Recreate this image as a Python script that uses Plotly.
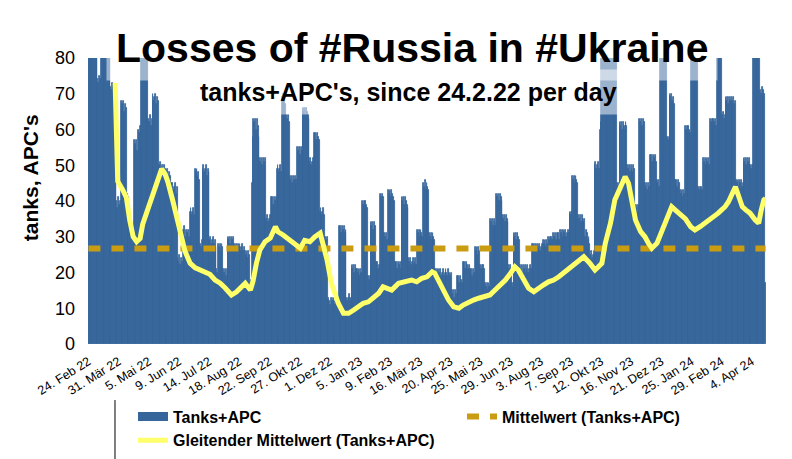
import pandas as pd
import plotly.graph_objects as go

start_date = "2022-02-24"

# daily losses tanks+APC (values above 80 run off the top)
losses_2022 = [
    86, 92, 88, 95, 90, 84, 97, 91, 85, 89, 83,
    74, 73, 75, 74,
    88, 93, 85, 96, 90, 84, 87, 92, 86, 89, 83,
    72, 71, 73, 72, 70, 72, 71,
    40, 38, 41, 39, 40,
    68, 66, 67, 68, 65, 67, 66,
    42, 40, 41, 39,
    31, 30, 32, 31,
    57, 55, 56, 57, 54,
    60, 59, 61, 60,
    84, 88, 82, 86, 90, 83, 85, 81,
    63, 62, 64, 61, 63,
    70, 68, 69, 70, 67, 69, 68,
    50, 49, 51, 48, 50, 49, 50,
    49, 47, 48, 49, 46, 48, 47,
    45, 44, 45, 43, 44, 45, 42, 44,
    24, 23, 25, 22, 24, 23,
    32, 31, 33, 30, 32, 31, 32, 30,
    37, 38, 36, 37, 38, 36,
    49, 48, 49, 47, 48, 46,
    28, 27, 29,
    49, 50, 48, 49, 50, 47, 49, 48,
    29, 30, 28, 29, 30, 28, 29, 27,
    21, 20,
    28, 27, 28, 26, 28, 27,
    21, 20, 21, 19, 21,
    30, 29, 30, 28, 30, 29, 30, 28,
    28, 27, 28, 26, 28, 27, 28, 26, 27, 28, 26, 27,
    26, 25, 26, 24, 26, 25,
    17, 18,
    45, 58, 63, 62, 63, 60, 63, 61, 58,
    52, 51, 52, 50, 52, 51, 50, 52,
    35, 36, 34, 35, 36,
    41, 40, 41, 39, 41, 40, 41,
    49, 50, 48, 49, 50, 48,
    69, 70, 68, 69, 67,
    64, 63, 64, 62,
    47, 46, 47, 45, 47, 46, 47, 45, 46,
    55, 54, 55, 53, 55, 54,
    66, 65, 66, 64, 66, 65, 64, 63,
    51, 52, 50, 51, 52,
    59, 58, 59, 57, 59, 58, 57,
    37, 38, 36, 37, 38, 36,
    30, 29, 30,
    12, 13, 12, 11, 13, 12, 13, 12, 11, 12, 13, 12, 12,
    33, 32, 33, 31, 33, 32, 33, 31, 32,
    13, 12, 13, 14, 13, 12,
    22, 21, 22, 20, 22,
]
losses_2023 = [
    21,
    21, 20, 21, 19, 21, 20,
    40, 39, 40, 38, 40, 39, 38,
    19, 18, 19,
    34, 33, 34, 32, 34, 33,
    23, 22, 23, 21, 22,
    42, 41, 42, 40, 41,
    31, 30, 31, 29,
    43, 42, 43, 41, 43, 42, 41, 40,
    23, 22, 23, 21, 23, 22, 23, 21,
    41, 40, 41, 39, 41, 40, 39, 38,
    24, 23, 24, 22, 23, 24, 22, 23, 24, 22,
    32, 31, 32, 30, 32, 31, 30,
    45, 44, 46, 43, 45, 44, 43,
    31, 30, 31, 29, 31, 30, 29,
    21, 20, 21, 19, 21, 20, 21, 19, 20, 21, 19, 20, 21, 20, 19, 21, 20, 19, 20,
    15, 14, 15, 13, 15, 14,
    19, 18, 19, 17, 19, 18, 17,
    23, 22, 23, 21, 23, 22, 21, 22,
    21, 20, 21, 19, 21, 20,
    27, 26, 27, 25, 27, 26,
    22, 21, 22, 20, 22, 21,
    17, 16, 17, 15, 17, 16,
    35, 34, 35, 33, 35, 34, 33,
    42, 41, 42, 40, 42, 41, 40,
    36, 35, 36, 34, 36, 35, 34,
    22, 21, 22, 20,
    17, 16,
    31, 30, 31, 29, 31, 30, 29,
    22, 21, 22, 20, 22, 21, 22, 20, 21, 22, 20, 21, 22, 21,
    28, 27, 28, 26, 28, 27, 28, 26, 27, 28, 26, 27, 28,
    29, 28, 29, 27, 29, 28,
    30, 29, 30, 28, 30, 29,
    31, 30, 31, 29, 31, 30, 31, 29,
    32, 31, 32, 30, 32, 31, 32, 30, 31, 32, 31,
    37, 36, 37,
    47, 46, 47, 45, 47, 46, 45,
    36, 35, 36, 34, 36, 35, 34, 35,
    30, 32, 31, 29, 30, 28,
    25, 26, 24, 25, 26,
    50, 51, 49, 50, 51, 49,
    60, 62,
    85, 90, 84, 93, 88, 86, 95, 89, 84, 91, 87, 85, 92, 88, 83, 90, 86, 84,
    45, 44, 45,
    62, 61, 62, 60, 62, 61, 60, 62, 61,
    50, 49, 50, 48, 50, 49, 48, 50, 49,
    39, 38, 39, 37, 39,
    63, 62, 63, 61, 63, 62,
    45, 44, 45, 43, 45, 44,
    53, 52, 53, 51, 53, 52, 53, 51,
    46, 45, 46, 44,
    85, 88, 84, 90, 86, 83, 87, 84,
    58, 57, 58,
    70,
]
losses_2024 = [
    69, 70, 68, 69, 67,
    46, 45, 46, 44, 46, 45,
    43, 42, 43, 41, 43, 42,
    61, 60, 61, 59, 61, 60, 59,
    86, 90, 84, 88, 92, 85, 87, 83,
    44, 43, 44, 42, 44, 43,
    52, 51, 52, 50, 52, 51, 52, 50,
    63, 62, 63, 61, 63, 62, 63, 61,
    85, 89, 83, 91, 86, 84,
    64, 65, 63, 64,
    69, 68, 69, 67, 69, 68, 69, 67, 68, 69, 67, 68,
    46, 45, 46, 44, 46, 45, 46, 44, 45,
    52, 51, 52, 50, 52, 51, 52, 50,
    50, 49, 50,
    86, 90, 84, 92, 87, 85, 89, 83,
    71, 70, 72, 69, 71, 70,
    17,
]

# moving average (yellow line), read at these day offsets from 24.2.22
ma_days = [
    31, 32, 33, 34, 40, 44, 48, 52, 56, 60, 63, 69, 75, 81, 85, 89, 92, 98,
    104, 108, 112, 118, 124, 130, 135, 141, 147, 153, 159, 166, 172, 178, 182,
    188, 191, 195, 199, 205, 211, 217, 220, 226, 234, 240, 246, 251, 257, 263,
    269, 272, 277, 282, 290, 296, 302, 308, 313, 319, 325, 331, 337, 342, 352,
    360, 368, 375, 381, 387, 393, 399, 402, 406, 412, 418, 424, 430, 435, 441,
    447, 453, 459, 466, 472, 478, 484, 490, 495, 499, 505, 511, 517, 522, 528,
    534, 540, 546, 551, 557, 563, 569, 575, 582, 588, 592, 596, 600, 606, 611,
    617, 623, 627, 631, 635, 641, 646, 650, 654, 660, 666, 672, 677, 681, 687,
    693, 699, 704, 710, 716, 722, 728, 731, 735, 739, 743, 747, 751, 755, 759,
    763, 768, 774, 778, 781, 784, 786,
]
ma_values = [
    73.0, 60.0, 47.0, 45.5, 43.0, 41.0, 34.5, 30.0, 28.6, 29.5, 33.5, 37.5, 42.0, 46.0, 49.0, 47.5, 45.5, 40.0,
    34.7, 30.0, 26.0, 22.6, 21.3, 20.7, 20.2, 19.5, 17.9, 17.0, 15.6, 13.7, 14.6, 15.8, 17.0,
    15.1, 17.5, 22.6, 26.3, 28.6, 29.6, 32.8, 31.4, 30.5, 29.0, 28.2, 26.8, 29.0, 28.6, 30.0,
    31.0, 28.2, 23.5, 17.0, 11.4, 8.6, 8.6, 9.5, 10.4, 11.4, 11.8, 12.8, 14.2, 16.0, 15.1,
    17.0, 17.4, 17.9, 17.4, 18.4, 18.8, 20.2, 19.8, 17.9, 15.1, 12.3, 10.4, 10.0, 10.9, 11.8,
    12.3, 12.8, 13.2, 13.7, 15.1, 16.5, 17.9, 19.8, 21.6, 20.7, 17.9, 15.6, 14.6, 15.6, 16.5,
    17.4, 17.9, 18.8, 19.8, 21.2, 22.1, 23.5, 24.4, 22.6, 20.7, 21.6, 22.6, 28.2, 33.8, 40.3,
    44.0, 46.8, 44.9, 39.3, 34.7, 31.4, 30.0, 28.2, 26.8, 28.2, 31.9, 35.6, 38.4, 37.5, 36.1,
    35.0, 32.8, 31.9, 32.8, 33.8, 35.2, 36.1, 36.6, 37.5, 38.4, 39.8, 42.1, 44.0, 41.2, 38.4,
    37.5, 36.6, 34.7, 33.8, 37.5, 40.3, 40.7,
]

mean_value = 26.7

tick_dates = [
    "2022-02-24", "2022-03-31", "2022-05-05", "2022-06-09", "2022-07-14", "2022-08-18",
    "2022-09-22", "2022-10-27", "2022-12-01", "2023-01-05", "2023-02-09", "2023-03-16",
    "2023-04-20", "2023-05-25", "2023-06-29", "2023-08-03", "2023-09-07", "2023-10-12",
    "2023-11-16", "2023-12-21", "2024-01-25", "2024-02-29", "2024-04-04",
]
tick_labels = [
    "24. Feb 22", "31. Mär 22", "5. Mai 22", "9. Jun 22", "14. Jul 22", "18. Aug 22",
    "22. Sep 22", "27. Okt 22", "1. Dez 22", "5. Jan 23", "9. Feb 23", "16. Mär 23",
    "20. Apr 23", "25. Mai 23", "29. Jun 23", "3. Aug 23", "7. Sep 23", "12. Okt 23",
    "16. Nov 23", "21. Dez 23", "25. Jan 24", "29. Feb 24", "4. Apr 24",
]

losses = losses_2022 + losses_2023 + losses_2024
dates = pd.date_range(start_date, periods=len(losses), freq="D")
ma_dates = pd.Timestamp(start_date) + pd.to_timedelta(ma_days, unit="D")

BLUE = "#35659a"
GOLD = "#c99c12"
YELLOW = "#ffff6a"
FONT = "Liberation Sans"

fig = go.Figure()

fig.add_trace(go.Bar(
    x=dates, y=losses, marker=dict(color=BLUE, line=dict(width=0.8, color=BLUE)),
    showlegend=False, hoverinfo="x+y",
))
# legend swatch for the bars (wide block like the original)
fig.add_trace(go.Scatter(
    x=[None], y=[None], mode="lines", name="Tanks+APC",
    line=dict(color=BLUE, width=9), legend="legend",
))
fig.add_trace(go.Scatter(
    x=dates, y=[mean_value] * len(dates), mode="lines", name="Mittelwert (Tanks+APC)",
    line=dict(color=GOLD, width=6, dash="12px,11px"), legend="legend2",
))
fig.add_trace(go.Scatter(
    x=ma_dates, y=ma_values, mode="lines", name="Gleitender Mittelwert (Tanks+APC)",
    line=dict(color=YELLOW, width=5), legend="legend",
))

legend_style = dict(
    xanchor="left", yanchor="top", y=-0.194, font=dict(size=16, weight="bold"),
    bgcolor="rgba(0,0,0,0)", tracegroupgap=0,
)

# page body has an 8px margin, so the margins are shifted by 8px
fig.update_layout(
    width=792, height=459,
    margin=dict(l=80, r=34, t=50, b=123, autoexpand=False),
    plot_bgcolor="white", paper_bgcolor="white",
    font=dict(family=FONT, color="black"),
    bargap=0,
    showlegend=True,
    legend=dict(x=0.0664, **legend_style),
    legend2=dict(x=0.5516, **legend_style),
    xaxis=dict(
        type="date",
        range=[dates[0] - pd.Timedelta(hours=12), dates[-1] + pd.Timedelta(hours=12)],
        tickvals=tick_dates, ticktext=tick_labels, tickangle=-32,
        tickfont=dict(size=12.5), showgrid=False, zeroline=False, showline=False,
        ticklabelstandoff=7,
    ),
    yaxis=dict(
        range=[0, 80], tickvals=list(range(0, 81, 10)), tickfont=dict(size=18),
        showgrid=False, zeroline=False, showline=False, ticklabelstandoff=12,
    ),
)

# title + subtitle with half-transparent white boxes over the bars
fig.add_annotation(
    text="<b>Losses of #Russia in #Ukraine</b>", xref="paper", yref="paper",
    x=0.478, y=0.92, xanchor="center", yanchor="bottom", showarrow=False,
    font=dict(size=41), bgcolor="rgba(255,255,255,0.5)", borderpad=9,
)
fig.add_annotation(
    text="<b>tanks+APC's, since 24.2.22 per day</b>", xref="paper", yref="paper",
    x=0.472, y=0.8007, xanchor="center", yanchor="bottom", showarrow=False,
    font=dict(size=25), bgcolor="rgba(255,255,255,0.5)", borderpad=8,
)
fig.add_annotation(
    text="<b>tanks, APC's</b>", xref="paper", yref="paper",
    x=-0.0855, y=0.58, xanchor="center", yanchor="middle", textangle=-90,
    showarrow=False, font=dict(size=21),
)
# left border line of the legend box
fig.add_shape(
    type="line", xref="paper", yref="paper", x0=0.0398, x1=0.0398, y0=-0.196, y1=-0.45,
    line=dict(color="black", width=1),
)

fig.write_html("out.html")
